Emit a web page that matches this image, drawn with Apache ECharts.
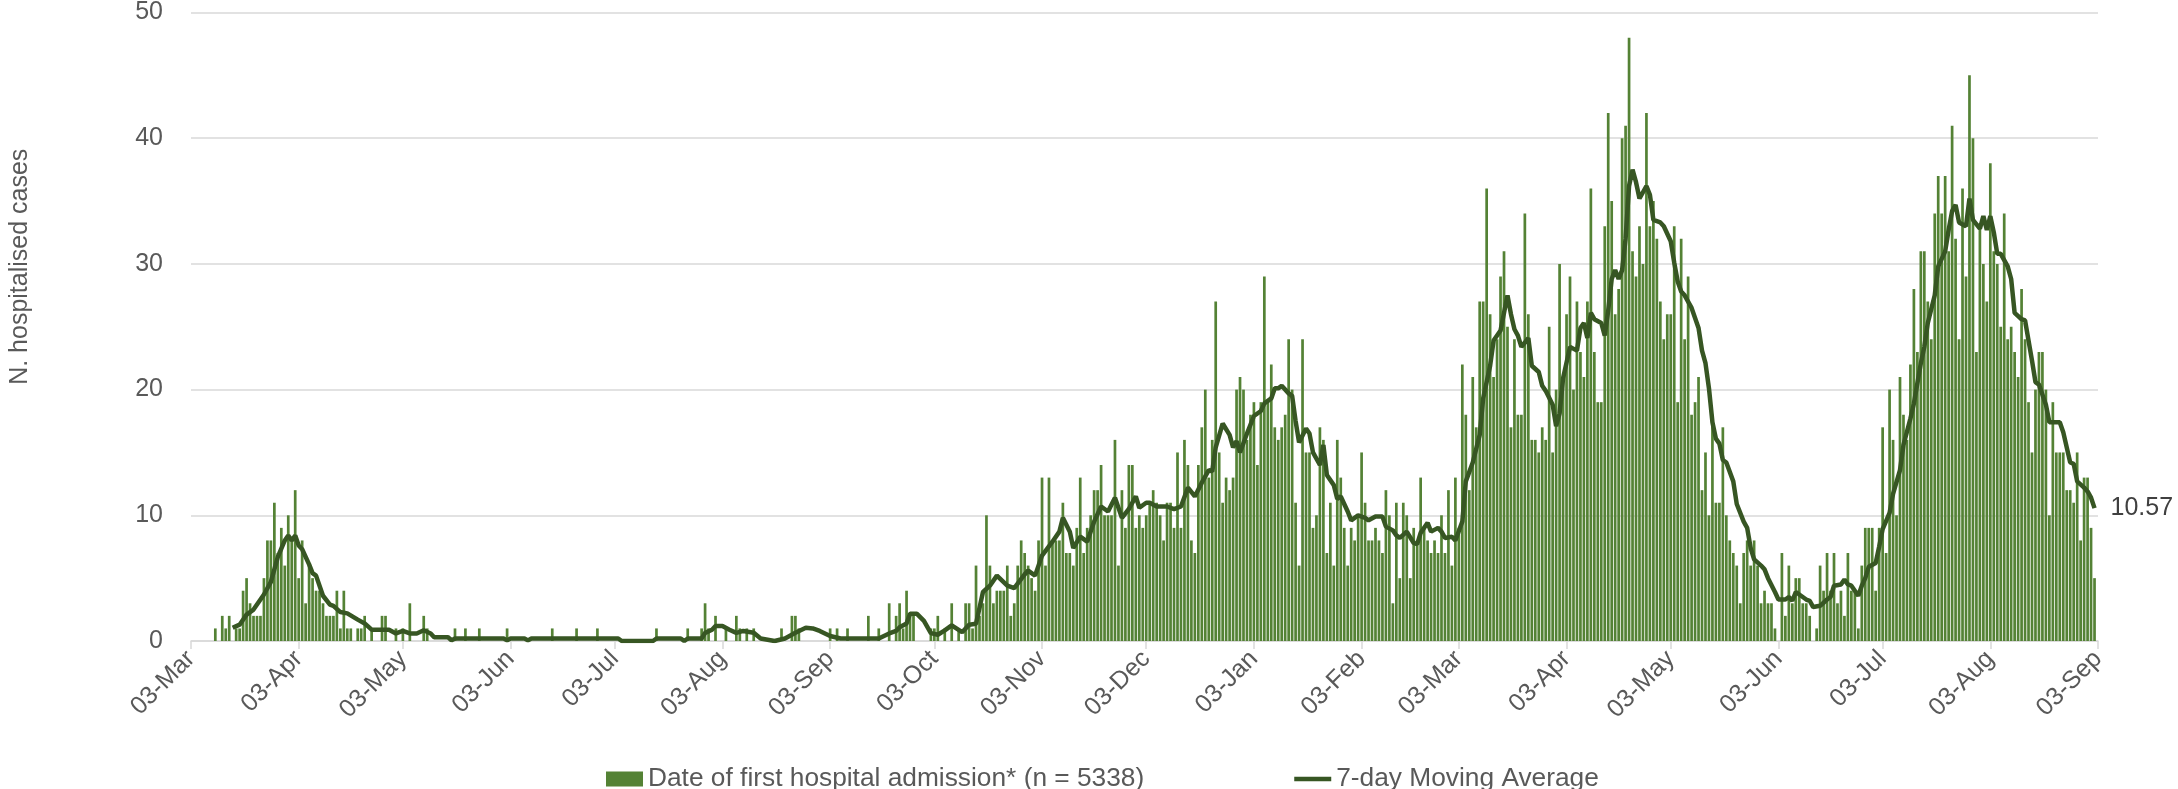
<!DOCTYPE html>
<html>
<head>
<meta charset="utf-8">
<title>Hospitalised cases</title>
<script src="https://cdn.jsdelivr.net/npm/echarts@6.0.0/dist/echarts.min.js"></script>
<style>
  html, body { margin: 0; padding: 0; background: #fff; }
  #main { width: 2178px; height: 789px; }
</style>
</head>
<body>
<div id="main"></div>
<script>
// first day on the axis and number of daily categories (03-Mar-2020 .. 03-Sep-2021)
const firstDay = [2020, 2, 3];
const dayCount = 550;
const monthNames = ['Jan', 'Feb', 'Mar', 'Apr', 'May', 'Jun', 'Jul', 'Aug', 'Sep', 'Oct', 'Nov', 'Dec'];

// daily hospital admissions, one value per day from 03-Mar-2020
const admissions = [
  0, 0, 0, 0, 0, 0, 0, 1, 0, 2,
  1, 2, 0, 1, 1, 4, 5, 3, 2, 2,
  2, 5, 8, 8, 11, 7, 9, 6, 10, 8,
  12, 5, 8, 3, 6, 5, 4, 4, 3, 2,
  2, 2, 4, 1, 4, 1, 1, 0, 1, 1,
  2, 0, 1, 0, 0, 2, 2, 0, 0, 1,
  0, 1, 0, 3, 0, 0, 0, 2, 1, 0,
  0, 0, 0, 0, 0, 0, 1, 0, 0, 1,
  0, 0, 0, 1, 0, 0, 0, 0, 0, 0,
  0, 1, 0, 0, 0, 0, 0, 0, 0, 0,
  0, 0, 0, 0, 1, 0, 0, 0, 0, 0,
  0, 1, 0, 0, 0, 0, 0, 1, 0, 0,
  0, 0, 0, 0, 0, 0, 0, 0, 0, 0,
  0, 0, 0, 0, 1, 0, 0, 0, 0, 0,
  0, 0, 0, 1, 0, 0, 0, 1, 3, 1,
  0, 2, 0, 0, 1, 0, 0, 2, 1, 0,
  1, 0, 1, 0, 0, 0, 0, 0, 0, 0,
  1, 0, 0, 2, 2, 1, 0, 0, 0, 0,
  0, 0, 0, 0, 1, 0, 1, 0, 0, 1,
  0, 0, 0, 0, 0, 2, 0, 0, 1, 0,
  0, 3, 0, 2, 3, 1, 4, 2, 2, 0,
  0, 0, 0, 1, 1, 2, 0, 1, 0, 3,
  0, 1, 0, 3, 3, 1, 6, 2, 3, 10,
  6, 3, 4, 4, 4, 6, 2, 3, 6, 8,
  7, 6, 5, 4, 8, 13, 6, 13, 8, 8,
  8, 11, 7, 7, 6, 9, 13, 7, 9, 10,
  12, 12, 14, 10, 10, 10, 16, 6, 12, 9,
  14, 14, 9, 10, 9, 10, 11, 12, 11, 10,
  8, 11, 11, 9, 15, 9, 16, 14, 8, 7,
  14, 17, 20, 13, 16, 27, 15, 11, 13, 12,
  13, 20, 21, 20, 16, 18, 19, 14, 19, 29,
  19, 22, 17, 16, 17, 18, 24, 20, 11, 6,
  24, 15, 15, 9, 10, 17, 16, 7, 11, 6,
  16, 13, 9, 6, 9, 8, 10, 15, 11, 8,
  8, 9, 8, 7, 12, 10, 3, 11, 5, 11,
  10, 5, 9, 8, 13, 9, 8, 7, 8, 7,
  10, 7, 12, 6, 13, 9, 22, 18, 12, 21,
  17, 27, 27, 36, 26, 21, 24, 29, 31, 25,
  17, 24, 18, 18, 34, 26, 16, 16, 15, 17,
  16, 25, 15, 20, 30, 21, 26, 29, 20, 27,
  23, 21, 27, 36, 23, 19, 19, 33, 42, 35,
  26, 28, 40, 41, 48, 31, 29, 33, 30, 42,
  33, 35, 32, 27, 24, 26, 26, 33, 19, 32,
  24, 29, 18, 19, 21, 12, 15, 10, 18, 11,
  11, 17, 10, 8, 7, 6, 3, 7, 8, 6,
  8, 6, 3, 4, 3, 3, 1, 0, 7, 2,
  6, 3, 5, 5, 3, 3, 2, 0, 1, 6,
  4, 7, 4, 7, 3, 4, 2, 7, 4, 4,
  1, 6, 9, 9, 9, 4, 9, 17, 7, 20,
  16, 10, 21, 18, 16, 22, 28, 23, 31, 31,
  27, 24, 34, 37, 34, 37, 31, 41, 32, 24,
  36, 29, 45, 40, 23, 33, 30, 27, 38, 31,
  30, 25, 34, 24, 25, 23, 21, 28, 24, 19,
  15, 20, 23, 23, 20, 10, 19, 15, 15, 15,
  12, 12, 11, 15, 8, 13, 13, 9, 5
];

// 7-day moving average: [day index, value]
const movingAvg = [
  [12, 1.05], [14, 1.3], [16, 2.1], [18, 2.5], [21, 3.7], [23, 4.7], [25, 6.7], [27, 8.0],
  [28, 8.4], [29, 8.0], [30, 8.4], [31, 7.6], [32, 7.3], [34, 6.1], [35, 5.4], [36, 5.2],
  [38, 3.6], [40, 2.9], [41, 2.8], [43, 2.3], [45, 2.2], [48, 1.7], [50, 1.4], [52, 0.9],
  [55, 0.9], [57, 0.9], [59, 0.6], [61, 0.8], [63, 0.6], [65, 0.6], [67, 0.85], [69, 0.6],
  [70, 0.3], [74, 0.3], [75, 0.05], [76, 0.2], [90, 0.2], [91, 0.05], [92, 0.2], [96, 0.2],
  [97, 0.05], [98, 0.2], [123, 0.2], [124, 0], [133, 0], [134, 0.2], [141, 0.2], [142, 0],
  [143, 0.2], [147, 0.2], [148, 0.65], [150, 0.9], [151, 1.2], [153, 1.2], [155, 0.9], [157, 0.65],
  [159, 0.8], [162, 0.65], [164, 0.2], [168, 0], [171, 0.2], [174, 0.65], [177, 1.05], [179, 1.0],
  [181, 0.8], [184, 0.4], [187, 0.2], [198, 0.2], [201, 0.6], [203, 0.8], [204, 1.1], [206, 1.4],
  [207, 2.16], [209, 2.16], [211, 1.6], [213, 0.63], [215, 0.5], [217, 0.84], [219, 1.24], [222, 0.7],
  [224, 1.3], [226, 1.37], [228, 3.9], [230, 4.4], [232, 5.2], [235, 4.4], [237, 4.2], [240, 5.3],
  [241, 5.6], [243, 5.2], [245, 6.8], [248, 7.9], [250, 8.7], [251, 9.8], [253, 8.7], [254, 7.4],
  [256, 8.3], [258, 7.9], [260, 9.5], [262, 10.7], [264, 10.3], [266, 11.4], [268, 9.8], [270, 10.5],
  [272, 11.5], [273, 10.6], [275, 11], [276, 11], [278, 10.7], [281, 10.7], [283, 10.5], [285, 10.7],
  [287, 12.2], [289, 11.5], [291, 12.6], [293, 13.6], [294, 13.5], [295, 15.4], [297, 17.3], [299, 16.4],
  [300, 15.4], [301, 15.9], [302, 15], [304, 16.5], [306, 17.9], [308, 18.3], [309, 18.9], [311, 19.3],
  [312, 20.1], [313, 20.1], [314, 20.3], [316, 19.7], [317, 19.5], [318, 17.5], [319, 15.8], [321, 16.9],
  [322, 16.5], [323, 15], [325, 14], [326, 15.6], [327, 13.2], [329, 12.4], [330, 11.3], [331, 11.5],
  [333, 10.3], [334, 9.6], [335, 9.8], [336, 10], [338, 9.8], [339, 9.6], [341, 9.9], [343, 9.9],
  [344, 9.1], [346, 8.8], [347, 8.4], [348, 8.2], [350, 8.7], [352, 7.8], [353, 7.7], [354, 8.6],
  [356, 9.4], [357, 8.7], [359, 9], [360, 8.7], [361, 8.2], [363, 8.3], [364, 8], [366, 9.5],
  [367, 12.7], [369, 14.2], [371, 16.4], [372, 19.3], [374, 21.9], [375, 23.9], [377, 24.7], [378, 26.1],
  [379, 27.5], [380, 26], [381, 24.8], [382, 24.3], [383, 23.4], [385, 24.1], [386, 21.9], [388, 21.4],
  [389, 20.3], [390, 19.9], [392, 18.8], [393, 17.1], [394, 18.1], [395, 20.9], [397, 23.4], [399, 23.1],
  [400, 24.9], [401, 25.3], [402, 24.1], [403, 26.1], [404, 25.6], [406, 25.3], [407, 24.3], [408, 26.3],
  [409, 28.8], [410, 29.5], [411, 28.8], [412, 29.5], [413, 32], [414, 36.2], [415, 37.5], [416, 36.5],
  [417, 35.2], [418, 35.7], [419, 36.2], [420, 35.5], [421, 33.5], [423, 33.3], [424, 33], [426, 31.8],
  [427, 30.1], [428, 28.6], [429, 27.8], [430, 27.5], [432, 26.5], [434, 24.9], [435, 23.1], [436, 22.1],
  [437, 20.1], [438, 17.4], [439, 16.1], [440, 15.7], [441, 14.4], [442, 14.2], [444, 12.7], [445, 10.9],
  [447, 9.5], [448, 9], [449, 7.4], [450, 6.5], [452, 6], [453, 5.7], [454, 5], [456, 3.9],
  [457, 3.3], [459, 3.3], [460, 3.5], [461, 3.2], [462, 3.9], [463, 3.7], [465, 3.3], [466, 3.2],
  [467, 2.7], [469, 2.8], [471, 3.3], [472, 3.5], [473, 4.4], [475, 4.5], [476, 4.9], [477, 4.5],
  [478, 4.4], [480, 3.6], [481, 4.4], [482, 5.0], [483, 5.9], [485, 6.2], [486, 7.5], [487, 8.9],
  [489, 10.2], [490, 11.7], [492, 13.6], [493, 15.6], [495, 17.7], [496, 18.9], [498, 22.1], [499, 23.4],
  [500, 25.3], [502, 27.5], [503, 29.8], [505, 31], [506, 32.7], [507, 34.2], [508, 34.7], [509, 33.3],
  [511, 33], [512, 35.2], [513, 33.5], [515, 32.8], [516, 33.8], [517, 32.7], [518, 33.8], [519, 32.5],
  [520, 30.8], [521, 30.8], [523, 29.8], [524, 28.8], [525, 26.1], [527, 25.6], [528, 25.5], [530, 22.3],
  [531, 20.6], [532, 20.4], [534, 18.8], [535, 17.4], [538, 17.4], [539, 16.6], [541, 14.2], [542, 14.1],
  [543, 12.7], [545, 12.2], [546, 11.9], [547, 11.4], [548, 10.57]
];

// build the day categories
const days = [];
for (let k = 0; k < dayCount; k++) {
  days.push(new Date(Date.UTC(firstDay[0], firstDay[1], firstDay[2] + k)));
}
const dayLabels = days.map(d => String(d.getUTCDate()).padStart(2, '0') + '-' + monthNames[d.getUTCMonth()]);
const isThird = (index) => days[index].getUTCDate() === 3;

const barName = 'Date of first hospital admission* (n = 5338)';
const lineName = '7-day Moving Average';
const textColor = '#595959';
const fontFamily = '"Liberation Sans", Arial, sans-serif';

const myChart = echarts.init(document.getElementById('main'));
myChart.setOption({
  animation: false,
  backgroundColor: '#fff',
  textStyle: { fontFamily: fontFamily },
  grid: { left: 186, right: 80, top: 11, bottom: 148, containLabel: false },
  legend: {
    left: 601,
    top: 761,
    itemWidth: 37,
    itemHeight: 15,
    itemGap: 150,
    textStyle: { fontSize: 26.3, color: textColor, fontFamily: fontFamily },
    data: [
      { name: barName, icon: 'rect' },
      // a flat bar so the key is a plain thick line
      { name: lineName, icon: 'path://M0,0H42V5H0Z' }
    ]
  },
  xAxis: {
    type: 'category',
    data: dayLabels,
    boundaryGap: false,
    axisLine: { lineStyle: { color: '#d9d9d9', width: 1.5 } },
    axisTick: {
      interval: isThird,
      length: 8,
      lineStyle: { color: '#d9d9d9', width: 1.5 }
    },
    axisLabel: {
      interval: isThird,
      rotate: 45,
      margin: 14,
      fontSize: 25,
      color: textColor
    },
    splitLine: { show: false }
  },
  yAxis: {
    type: 'value',
    min: 0,
    max: 50,
    interval: 10,
    name: 'N. hospitalised cases',
    nameLocation: 'middle',
    nameGap: 158,
    nameTextStyle: { fontSize: 25, color: textColor, padding: [0, 0, 0, 120] },
    axisLine: { show: false },
    axisTick: { show: false },
    axisLabel: { fontSize: 25, color: textColor, margin: 28 },
    splitLine: { lineStyle: { color: '#d9d9d9', width: 1.5 } }
  },
  series: [
    {
      name: barName,
      type: 'bar',
      data: admissions,
      barWidth: 2.7,
      itemStyle: { color: '#548235' }
    },
    {
      name: lineName,
      type: 'line',
      data: movingAvg,
      symbol: 'none',
      lineStyle: { color: '#375623', width: 4.5 },
      itemStyle: { color: '#375623' },
      endLabel: {
        show: true,
        distance: 16,
        fontSize: 25,
        color: '#404040',
        formatter: p => String(p.value[1])
      }
    }
  ]
});
</script>
</body>
</html>
